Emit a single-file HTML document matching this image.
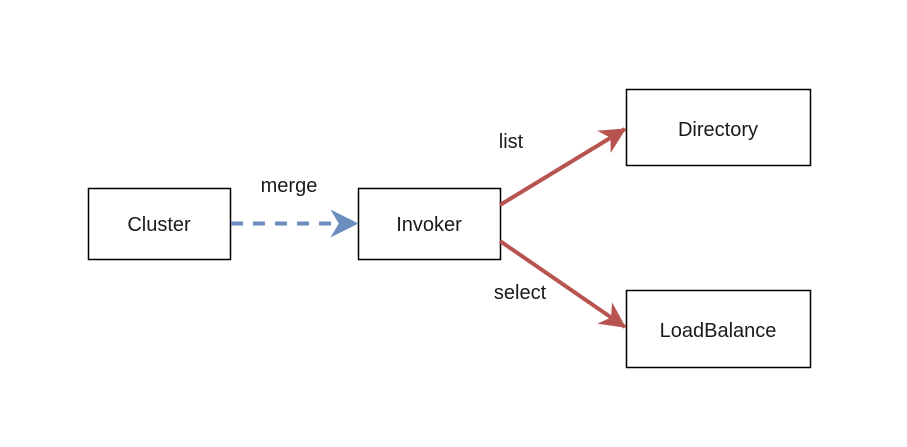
<!DOCTYPE html>
<html><head><style>
html,body{margin:0;padding:0;background:#fff;}
svg{display:block;}
text{font-family:"Liberation Sans",Arial,sans-serif;font-size:20px;fill:#1a1a1a;}
</style></head><body>
<svg width="907" height="447" viewBox="0 0 907 447" xmlns="http://www.w3.org/2000/svg">
<defs>
<marker id="r" viewBox="0 0 10 10" refX="9.5" refY="5" markerWidth="6.5" markerHeight="6.5" orient="auto" markerUnits="strokeWidth">
<path d="M0,0 L10,5 L0,10 L3,5 Z" fill="#b85450"/>
</marker>
<marker id="b" viewBox="0 0 10 10" refX="9.5" refY="5" markerWidth="7" markerHeight="7" orient="auto" markerUnits="strokeWidth">
<path d="M0,0 L10,5 L0,10 L3,5 Z" fill="#6c8ebf"/>
</marker>
</defs>
<rect x="88.5" y="188.5" width="142" height="71" fill="#fff" stroke="#000" stroke-width="1.5"/>
<rect x="358.5" y="188.5" width="142" height="71" fill="#fff" stroke="#000" stroke-width="1.5"/>
<rect x="626.5" y="89.5" width="184" height="76" fill="#fff" stroke="#000" stroke-width="1.5"/>
<rect x="626.5" y="290.5" width="184" height="77" fill="#fff" stroke="#000" stroke-width="1.5"/>
<text x="159" y="231" text-anchor="middle">Cluster</text>
<text x="429" y="231" text-anchor="middle">Invoker</text>
<text x="718" y="136" text-anchor="middle">Directory</text>
<text x="718" y="337" text-anchor="middle">LoadBalance</text>
<text x="289" y="192" text-anchor="middle">merge</text>
<text x="511" y="148" text-anchor="middle">list</text>
<text x="520" y="299" text-anchor="middle">select</text>
<line x1="231" y1="223.5" x2="357" y2="223.5" stroke="#6c8ebf" stroke-width="4" stroke-dasharray="12,10" marker-end="url(#b)"/>
<line x1="500" y1="205" x2="625" y2="129" stroke="#b85450" stroke-width="4" marker-end="url(#r)"/>
<line x1="500" y1="241" x2="625" y2="327" stroke="#b85450" stroke-width="4" marker-end="url(#r)"/>
</svg>
</body></html>
